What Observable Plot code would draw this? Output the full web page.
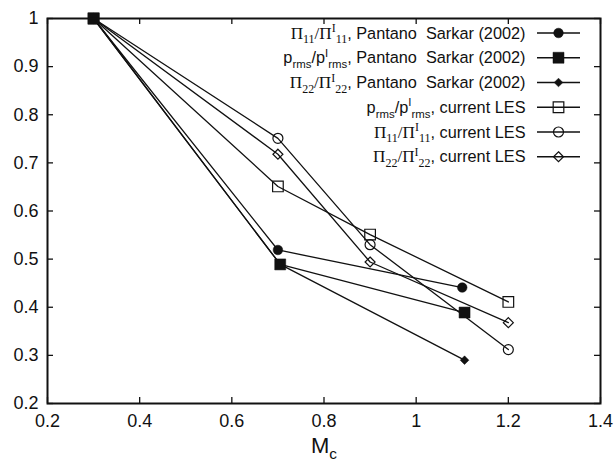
<!DOCTYPE html>
<html><head><meta charset="utf-8">
<script src="https://cdn.jsdelivr.net/npm/d3@7"></script>
<script src="https://cdn.jsdelivr.net/npm/@observablehq/plot@0.6"></script>
<style>body{margin:0;background:#fff} svg text{white-space:pre}</style>
</head><body><div id="chart"></div>
<script>
// ---- data ----
const mcPS1 = [0.3, 0.7, 1.1];
const mcPS2 = [0.3, 0.705, 1.105];
const mcLES = [0.3, 0.7, 0.9, 1.2];
const pi11PS = [1, 0.519, 0.441];
const prmsPS = [1, 0.489, 0.389];
const pi22PS = [1, 0.489, 0.290];
const prmsLES = [1, 0.651, 0.551, 0.411];
const pi11LES = [1, 0.751, 0.530, 0.312];
const pi22LES = [1, 0.718, 0.494, 0.368];
const legendLabels = [
  "Π_{11}/Π^{I}_{11}, Pantano  Sarkar (2002)",
  "p_{rms}/p^{I}_{rms}, Pantano  Sarkar (2002)",
  "Π_{22}/Π^{I}_{22}, Pantano  Sarkar (2002)",
  "p_{rms}/p^{I}_{rms}, current LES",
  "Π_{11}/Π^{I}_{11}, current LES",
  "Π_{22}/Π^{I}_{22}, current LES"
];
const xTicks = [0.2, 0.4, 0.6, 0.8, 1, 1.2, 1.4];
const xTickLabels = ["0.2", "0.4", "0.6", "0.8", "1", "1.2", "1.4"];
const yTicks = [0.2, 0.3, 0.4, 0.5, 0.6, 0.7, 0.8, 0.9, 1];
const yTickLabels = ["0.2", "0.3", "0.4", "0.5", "0.6", "0.7", "0.8", "0.9", "1"];
const xLabel = "M_{c}";

// ---- layout / style ----
const W = 616, H = 470, mL = 47, mR = 16, mT = 18, mB = 67;
const fw = W - mL - mR, fh = H - mT - mB;
const ink = "#111";
const sans = "'Liberation Sans', Arial, Helvetica, sans-serif";
const serif = "'Liberation Serif', 'Times New Roman', serif";
const legendFs = 16.3;

const styles = [
  {mc: mcPS1, v: pi11PS, symbol: "circle", fill: ink, r: 4.8},
  {mc: mcPS2, v: prmsPS, symbol: "square", fill: ink, r: 6.2},
  {mc: mcPS2, v: pi22PS, symbol: "diamond2", fill: ink, r: 3.9},
  {mc: mcLES, v: prmsLES, symbol: "square", fill: "none", r: 6},
  {mc: mcLES, v: pi11LES, symbol: "circle", fill: "none", r: 5},
  {mc: mcLES, v: pi22LES, symbol: "diamond2", fill: "none", r: 4.5}
];
const series = styles.map((s, k) => ({...s, label: legendLabels[k],
  pts: s.mc.map((x, i) => ({x, y: s.v[i]}))}));

// rich text: _{..} subscript, ^{..} superscript; math part (before comma) in serif when it has Π
function richify(el, fs) {
  const s = el.textContent;
  el.textContent = "";
  el.removeAttribute("font-family");
  const useSerif = s.includes("Π");
  const comma = s.indexOf(",");
  const re = /([_^])\{([^}]*)\}|[^_^]+/g;
  let m, cur = 0;
  const subShift = 0.3 * fs, supShift = 0.4 * fs, small = 0.7 * fs;
  while ((m = re.exec(s))) {
    const start = m.index;
    let pieces;
    if (m[1]) pieces = [{t: m[2], mode: m[1], math: comma >= 0 && start < comma}];
    else {
      const t = m[0];
      if (comma >= start && comma < start + t.length)
        pieces = [{t: t.slice(0, comma - start), math: true}, {t: t.slice(comma - start), math: false}];
      else pieces = [{t, math: comma >= 0 && start < comma}];
    }
    for (const p of pieces) {
      if (!p.t) continue;
      const ts = document.createElementNS("http://www.w3.org/2000/svg", "tspan");
      const target = p.mode === "_" ? subShift : p.mode === "^" ? -supShift : 0;
      if (target - cur !== 0) ts.setAttribute("dy", target - cur);
      cur = target;
      const isSerif = p.math && useSerif;
      ts.setAttribute("font-family", isSerif ? serif : sans);
      ts.setAttribute("font-size", (p.mode ? small : fs) * (isSerif ? 1.05 : 1));
      ts.textContent = p.t;
      el.appendChild(ts);
    }
  }
}
const richRender = (fs) => (index, scales, values, dims, context, next) => {
  const g = next(index, scales, values, dims, context);
  d3.select(g).selectAll("text").each(function () { richify(this, fs); });
  return g;
};

const sampleLine = {draw(ctx) { ctx.moveTo(-21.5, 0); ctx.lineTo(21.5, 0); }};

const marks = [];
// inward ticks on all four sides
marks.push(Plot.tickX(xTicks, {x: d => d, insetTop: fh - 6, stroke: ink, strokeWidth: 1.3}));
marks.push(Plot.tickX(xTicks, {x: d => d, insetBottom: fh - 6, stroke: ink, strokeWidth: 1.3}));
marks.push(Plot.tickY(yTicks, {y: d => d, insetRight: fw - 6, stroke: ink, strokeWidth: 1.3}));
marks.push(Plot.tickY(yTicks, {y: d => d, insetLeft: fw - 6, stroke: ink, strokeWidth: 1.3}));
marks.push(Plot.axisX({ticks: xTicks, tickSize: 0, tickPadding: 11, fontSize: 18, label: null,
  tickFormat: d => xTickLabels[xTicks.indexOf(d)]}));
marks.push(Plot.axisY({ticks: yTicks, tickSize: 0, tickPadding: 9, fontSize: 18, label: null,
  tickFormat: d => yTickLabels[yTicks.indexOf(d)]}));
// lines
for (const s of series) marks.push(Plot.line(s.pts, {x: "x", y: "y", stroke: ink, strokeWidth: 1.3}));
// markers (filled square drawn last)
for (const k of [3, 4, 5, 0, 2, 1]) {
  const s = series[k];
  marks.push(Plot.dot(s.pts, {x: "x", y: "y", symbol: s.symbol, r: s.r, fill: s.fill,
    stroke: ink, strokeWidth: s.fill === "none" ? 1.2 : 0.5}));
}
// legend
series.forEach((s, i) => {
  const dy = 14.5 + i * 24.75;
  marks.push(Plot.dot([0], {frameAnchor: "top-right", dx: -42, dy, symbol: sampleLine,
    fill: "none", stroke: ink, strokeWidth: 1.3}));
  marks.push(Plot.dot([0], {frameAnchor: "top-right", dx: -42, dy, symbol: s.symbol, r: s.r,
    fill: s.fill, stroke: ink, strokeWidth: s.fill === "none" ? 1.2 : 0.5}));
  marks.push(Plot.text([s.label], {frameAnchor: "top-right", dx: -75, dy: dy + 0.3, text: d => d,
    textAnchor: "end", lineAnchor: "middle", fontSize: legendFs, fill: ink, render: richRender(legendFs)}));
});
// x label
marks.push(Plot.text([xLabel], {frameAnchor: "bottom", dy: 42, text: d => d, textAnchor: "middle",
  lineAnchor: "middle", fontSize: 22, fill: ink, render: richRender(22)}));
marks.push(Plot.frame({stroke: ink, strokeWidth: 2}));

const chart = Plot.plot({
  width: W, height: H,
  marginLeft: mL, marginRight: mR, marginTop: mT, marginBottom: mB,
  x: {domain: [0.2, 1.4]},
  y: {domain: [0.2, 1]},
  style: {fontFamily: sans, fontSize: "18px", color: ink, background: "#fff"},
  marks
});
document.getElementById("chart").appendChild(chart);
</script>
</body></html>
